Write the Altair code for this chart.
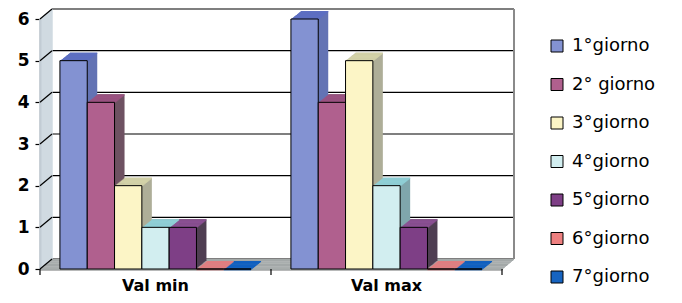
import altair as alt
import pandas as pd

# ---- data ----
groups = ["Val min", "Val max"]
series = ["1°giorno", "2° giorno", "3°giorno", "4°giorno", "5°giorno", "6°giorno", "7°giorno"]
val_min = [5, 4, 2, 1, 1, 0, 0]
val_max = [6, 4, 5, 2, 1, 0, 0]
y_ticks = [0, 1, 2, 3, 4, 5, 6]

# ---- styles ----
front_colors = ["#8392d2", "#b0608e", "#fcf5c6", "#d2eef0", "#7e3f86", "#ee8080", "#1764c0"]
side_colors = ["#6373b4", "#6e5262", "#aeae98", "#7fa6ac", "#4f3e52", "#c06060", "#0c4a94"]
top_colors = ["#5d6fc2", "#9a5280", "#d3d2a8", "#8fcfd6", "#8a5092", "#e07e80", "#1060c0"]
FONT = "DejaVu Sans"
W, H = 462, 250
BD, BDY = 10, 8      # bar depth (px)
WD, WDY = 12, 10     # wall depth (px)
BAND = W / len(groups)

rows = []
for g, vals in zip(groups, [val_min, val_max]):
    for i, (s, v) in enumerate(zip(series, vals)):
        rows.append({"group": g, "series": s, "value": v,
                     "side": side_colors[i], "top": top_colors[i]})
df = pd.DataFrame(rows)
ticks_df = pd.DataFrame({"tick": y_ticks})
one = pd.DataFrame({"a": [0]})

yscale = alt.Scale(domain=[0, 6], nice=False, zero=True)
xscale = alt.Scale(domain=groups, paddingInner=0, paddingOuter=0)


def oscale(shift):
    return alt.Scale(domain=series, range=[shift, BAND + shift],
                     paddingInner=0, paddingOuter=0.73)


layers = []

# back wall grid lines
layers.append(
    alt.Chart(ticks_df).mark_rule(color="black", strokeWidth=1.2, yOffset=-WDY).encode(
        x=alt.value(WD), x2=alt.value(W + WD),
        y=alt.Y("tick:Q", scale=yscale, axis=None))
)
# back wall right edge
layers.append(
    alt.Chart(one).mark_rule(color="#8a8a8a", strokeWidth=2, yOffset=-WDY, y2Offset=-WDY).encode(
        x=alt.value(W + WD),
        y=alt.YDatum(0, type="quantitative", scale=yscale, axis=None),
        y2=alt.Y2Datum(6))
)
# floor (extruded strip)
for k in range(WD + 1):
    off = -k * WDY / WD
    layers.append(
        alt.Chart(one).mark_rect(color="#a3a9a8", yOffset=off, y2Offset=off + 1.2).encode(
            x=alt.value(k), x2=alt.value(W + k),
            y=alt.YDatum(0, type="quantitative", scale=yscale, axis=None),
            y2=alt.Y2Datum(0))
    )
# left wall (extruded)
for k in range(WD + 1):
    off = -k * WDY / WD
    layers.append(
        alt.Chart(one).mark_rule(color="#c9d5dd", strokeWidth=1.3, yOffset=off, y2Offset=off).encode(
            x=alt.value(k),
            y=alt.YDatum(0, type="quantitative", scale=yscale, axis=None),
            y2=alt.Y2Datum(6))
    )
# left wall connectors
layers.append(
    alt.Chart(ticks_df).mark_rule(color="black", strokeWidth=1.2, y2Offset=-WDY).encode(
        x=alt.value(0), x2=alt.value(WD),
        y=alt.Y("tick:Q", scale=yscale, axis=None),
        y2=alt.Y2("tick"))
)

base = alt.Chart(df)
xenc = alt.X("group:N", sort=groups, scale=xscale, axis=None)

# bar side faces
for k in range(1, BD + 1):
    off = -k * BDY / BD
    layers.append(
        base.mark_bar(yOffset=off, y2Offset=off).encode(
            x=xenc,
            xOffset=alt.XOffset("series:N", sort=series, scale=oscale(k)),
            y=alt.Y("value:Q", scale=yscale, axis=None),
            color=alt.Color("side:N", scale=None))
    )
# bar top faces
for k in range(0, BD + 1):
    off = -k * BDY / BD
    layers.append(
        base.mark_bar(yOffset=off, y2Offset=off + 1.3).encode(
            x=xenc,
            xOffset=alt.XOffset("series:N", sort=series, scale=oscale(k)),
            y=alt.Y("value:Q", scale=yscale, axis=None),
            y2=alt.Y2("value"),
            color=alt.Color("top:N", scale=None))
    )

# front faces with axes and legend
front = base.mark_bar(stroke="black", strokeWidth=1).encode(
    x=alt.X("group:N", sort=groups, scale=xscale,
            axis=alt.Axis(title=None, orient="bottom", labelAngle=0, ticks=False, domain=True,
                          domainColor="black", domainWidth=1.5,
                          labelFont=FONT, labelFontSize=16, labelFontWeight="bold",
                          labelColor="black", labelPadding=8)),
    xOffset=alt.XOffset("series:N", sort=series, scale=oscale(0)),
    y=alt.Y("value:Q", scale=yscale,
            axis=alt.Axis(title=None, orient="left", values=y_ticks, grid=False, domain=True,
                          domainColor="#909090", domainWidth=2,
                          tickColor="black", tickSize=5, tickWidth=1.2,
                          labelFont=FONT, labelFontSize=17, labelFontWeight="bold",
                          labelColor="black", labelPadding=6)),
    color=alt.Color("series:N", sort=series,
                    scale=alt.Scale(domain=series, range=front_colors),
                    legend=alt.Legend(title=None, orient="none", legendX=508, legendY=18,
                                      symbolType="square", symbolSize=144,
                                      symbolStrokeColor="black", symbolStrokeWidth=1,
                                      symbolOpacity=1,
                                      labelFont=FONT, labelFontSize=18, labelColor="black",
                                      rowPadding=20.5, labelOffset=6, padding=0)),
)
layers.append(front)

# x ticks at group boundaries
layers.append(
    alt.Chart(pd.DataFrame({"group": groups})).mark_rule(color="black", strokeWidth=1.2, y2Offset=6).encode(
        x=alt.X("group:N", sort=groups, scale=xscale, axis=None, bandPosition=0),
        y=alt.YDatum(0, type="quantitative", scale=yscale, axis=None),
        y2=alt.Y2Datum(0))
)
layers.append(
    alt.Chart(one).mark_rule(color="black", strokeWidth=1.2, y2Offset=6).encode(
        x=alt.value(W),
        y=alt.YDatum(0, type="quantitative", scale=yscale, axis=None),
        y2=alt.Y2Datum(0))
)

chart = alt.layer(*layers).resolve_scale(
    xOffset="independent"
).resolve_axis(
    x="independent", y="independent"
).properties(
    width=W, height=H,
    autosize=alt.AutoSizeParams(type="none"),
    padding={"left": 32, "top": 11, "right": 172, "bottom": 26},
).configure_view(stroke=None)

chart.save("out.html", embed_options={"renderer": "svg", "actions": False})
